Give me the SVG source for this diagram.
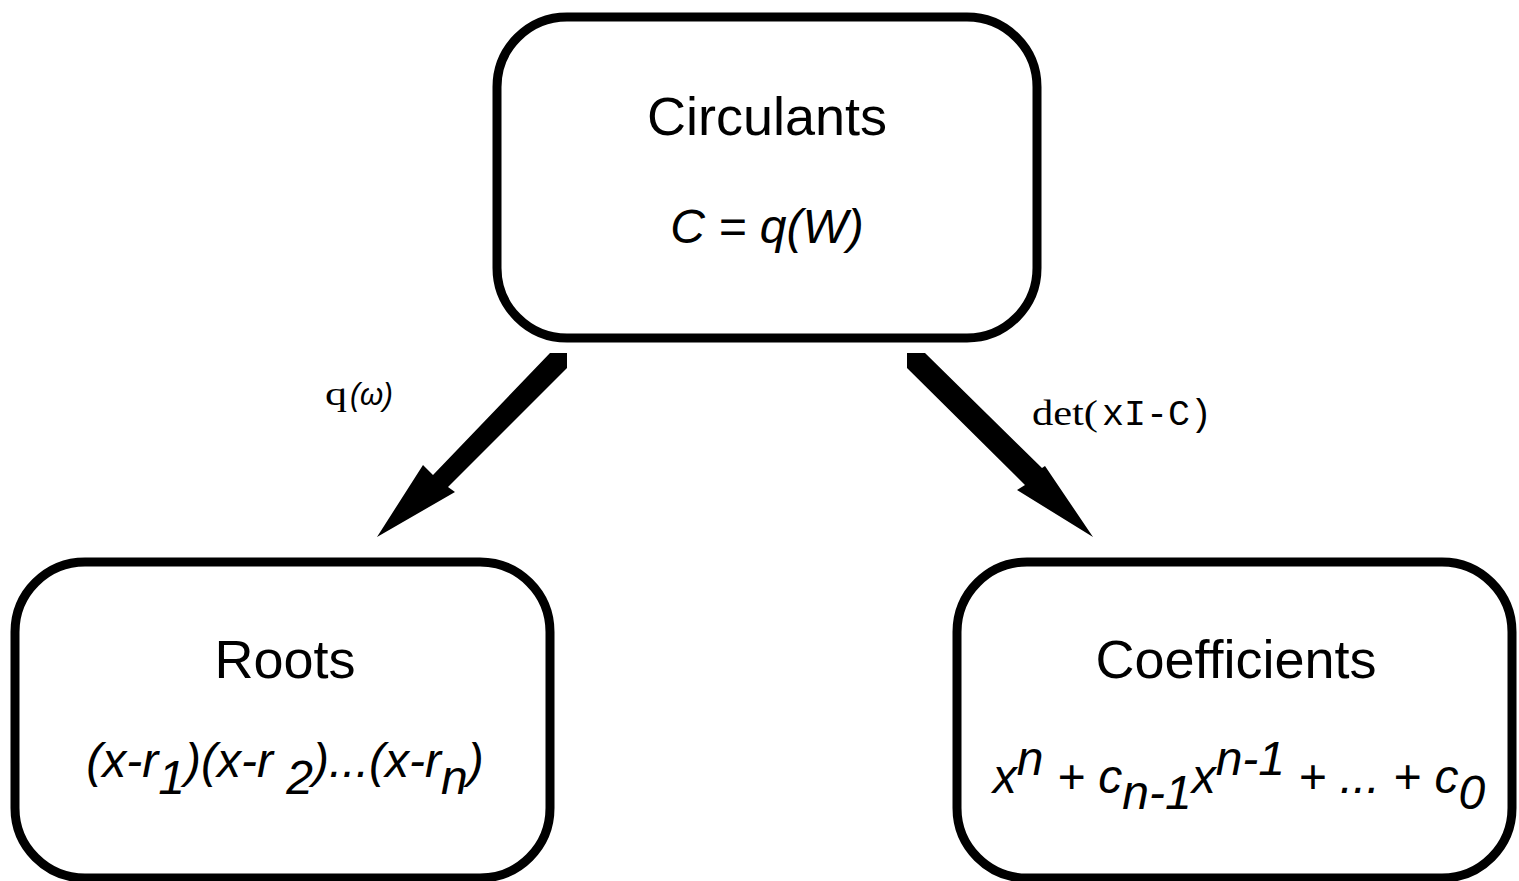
<svg xmlns="http://www.w3.org/2000/svg" width="1519" height="881" viewBox="0 0 1519 881">
<style>
.box{fill:#fff;stroke:#000;stroke-width:9}
.t{font-family:"Liberation Sans",Arial,sans-serif;fill:#000;text-anchor:middle}
.title{font-size:54px}
.f{font-size:48px;font-style:italic}
.serif{font-family:"Liberation Serif","Times New Roman",serif;fill:#000}
.mono{font-family:"Liberation Mono","Courier New",monospace;fill:#000}
.it{font-family:"Liberation Sans",Arial,sans-serif;font-style:italic;fill:#000}
.arrow{fill:#000;stroke:none}
</style>
<rect width="1519" height="881" fill="#fff"/>
<g id="connectors">
<polygon class="arrow" points="550,353 567,353 567,368 448,487 455,492 377,537 423,465 433,475"/>
<polygon class="arrow" points="907,353 925,353 1042,468 1045,466 1093,537 1017,490 1025,485 907,368"/>
<text class="serif" x="325" y="405" font-size="34" textLength="22" lengthAdjust="spacingAndGlyphs">q</text>
<text class="it" x="350" y="405" font-size="32" textLength="43" lengthAdjust="spacingAndGlyphs">(ω)</text>
<text class="serif" x="1032" y="425" font-size="36" textLength="66" lengthAdjust="spacingAndGlyphs">det(</text>
<text class="mono" x="1102" y="425" font-size="36" textLength="110" lengthAdjust="spacingAndGlyphs">xI-C)</text>
</g>
<g id="circulants">
<rect class="box" x="497" y="17" width="540" height="321" rx="70" ry="70"/>
<text class="t title" x="767" y="135">Circulants</text>
<text class="t f" x="767" y="243">C = q(W)</text>
</g>
<g id="roots">
<rect class="box" x="15" y="562" width="535" height="316" rx="70" ry="70"/>
<text class="t title" x="285" y="678">Roots</text>
<text class="t f" x="285" y="777">(x-r<tspan dy="17">1</tspan><tspan dy="-17">)(x-r </tspan><tspan dy="17">2</tspan><tspan dy="-17">)...(x-r</tspan><tspan dy="17">n</tspan><tspan dy="-17">)</tspan></text>
</g>
<g id="coefficients">
<rect class="box" x="957" y="562" width="555" height="316" rx="70" ry="70"/>
<text class="t title" x="1236" y="678">Coefficients</text>
<text class="t f" x="1239" y="793">x<tspan dy="-18">n</tspan><tspan dy="18"> + c</tspan><tspan dy="16">n-1</tspan><tspan dy="-16">x</tspan><tspan dy="-18">n-1</tspan><tspan dy="18"> + ... + c</tspan><tspan dy="16">0</tspan></text>
</g>
</svg>
